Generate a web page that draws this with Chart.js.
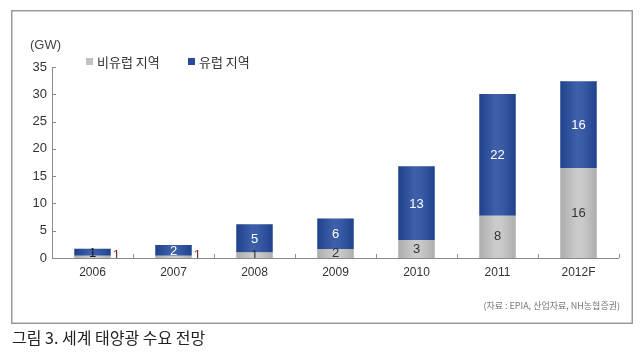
<!DOCTYPE html>
<html><head><meta charset="utf-8">
<script src="https://cdn.jsdelivr.net/npm/chart.js@4.4.0/dist/chart.umd.min.js"></script>
<style>html,body{margin:0;padding:0;background:#fff;}#wrap{width:643px;height:357px;position:relative;}</style>
</head><body><div id="wrap"><canvas id="c" width="643" height="357"></canvas></div>
<script>
const categories = ['2006','2007','2008','2009','2010','2011','2012F'];
const nonEurope = [0.4, 0.4, 1.0, 1.65, 3.3, 7.75, 16.5];
const europe = [1.3, 2.0, 5.2, 5.6, 13.5, 22.3, 15.9];
const nonEuropeLabels = ['1','1','1','2','3','8','16'];
const europeLabels = ['1','2','5','6','13','22','16'];
const seriesNames = ['비유럽 지역','유럽 지역'];
const yTicks = [0,5,10,15,20,25,30,35];
const unitText = '(GW)';
const sourceText = '(자료 : EPIA, 산업자료, NH농협증권)';
const captionText = '그림 3. 세계 태양광 수요 전망';

const FONT = '"Liberation Sans", Arial, "Noto Sans CJK KR", sans-serif';
const KFONT = '"Noto Sans CJK KR", "Liberation Sans", sans-serif';

const deco = {
  id: 'deco',
  beforeDraw(chart) {
    const ctx = chart.ctx;
    ctx.save();
    ctx.fillStyle = '#fff';
    ctx.fillRect(0,0,chart.width,chart.height);
    ctx.strokeStyle = '#9a9a9a';
    ctx.lineWidth = 1.5;
    ctx.strokeRect(11.75, 10.75, 620.5, 312.5);
    ctx.restore();
  },
  afterDatasetsDraw(chart) {
    const ctx = chart.ctx;
    ctx.save();
    chart.data.datasets.forEach((ds, di) => {
      chart.getDatasetMeta(di).data.forEach(el => {
        const p = el.getProps(['x','y','base','width'], true);
        const l = p.x - p.width/2, r = p.x + p.width/2;
        const g = ctx.createLinearGradient(l, 0, r, 0);
        g.addColorStop(0, 'rgba(0,0,0,0.12)');
        g.addColorStop(0.45, 'rgba(255,255,255,0.12)');
        g.addColorStop(0.6, 'rgba(255,255,255,0.10)');
        g.addColorStop(1, 'rgba(0,0,0,0.12)');
        ctx.fillStyle = g;
        ctx.fillRect(l, Math.min(p.y,p.base), p.width, Math.abs(p.base-p.y));
      });
    });
    ctx.font = '13px ' + FONT;
    ctx.textBaseline = 'middle';
    const lbls = [nonEuropeLabels, europeLabels];
    chart.data.datasets.forEach((ds, di) => {
      chart.getDatasetMeta(di).data.forEach((el, i) => {
        const p = el.getProps(['x','y','base','width'], true);
        const h = Math.abs(p.base - p.y);
        const cy = (p.y + p.base)/2;
        if (di === 0) {
          if (h < 4) {
            ctx.fillStyle = '#7a2a18';
            ctx.textAlign = 'left';
            ctx.fillText(lbls[di][i], p.x + p.width/2 + 2, cy - 1);
          } else {
            ctx.fillStyle = '#333';
            ctx.textAlign = 'center';
            ctx.fillText(lbls[di][i], p.x, cy);
          }
        } else {
          ctx.fillStyle = h < 9 ? '#222' : '#fff';
          ctx.textAlign = 'center';
          ctx.fillText(lbls[di][i], p.x, cy + 1);
        }
      });
    });
    ctx.restore();
  },
  afterDraw(chart) {
    const ctx = chart.ctx;
    const xs = chart.scales.x, ys = chart.scales.y;
    const a = chart.chartArea;
    ctx.save();
    ctx.strokeStyle = '#8a8a8a';
    ctx.lineWidth = 1;
    ctx.beginPath();
    ctx.moveTo(a.left + 0.5, ys.getPixelForValue(35));
    ctx.lineTo(a.left + 0.5, a.bottom + 0.5);
    ctx.lineTo(a.right, a.bottom + 0.5);
    ctx.stroke();
    yTicks.forEach(v => {
      const y = Math.round(ys.getPixelForValue(v)) + 0.5;
      ctx.beginPath(); ctx.moveTo(a.left, y); ctx.lineTo(a.left + 4, y); ctx.stroke();
    });
    for (let i = 0; i < categories.length; i++) {
      const x = Math.round((xs.getPixelForValue(i) + (i < categories.length-1 ? xs.getPixelForValue(i+1) : 2*xs.getPixelForValue(i) - xs.getPixelForValue(i-1)))/2) + 0.5;
      ctx.beginPath(); ctx.moveTo(x, a.bottom); ctx.lineTo(x, a.bottom - 4); ctx.stroke();
    }
    ctx.fillStyle = '#444';
    ctx.font = '13px ' + FONT;
    ctx.textAlign = 'left';
    ctx.textBaseline = 'middle';
    ctx.fillText(unitText, 30, 45);
    const cols = ['#c2c2c2', '#244a9e'];
    const lx = [86, 188];
    ctx.font = '13px ' + KFONT;
    seriesNames.forEach((n, i) => {
      ctx.fillStyle = cols[i];
      ctx.fillRect(lx[i], 58, 7, 7);
      ctx.fillStyle = '#333';
      ctx.fillText(n, lx[i] + 11, 62);
    });
    ctx.fillStyle = '#777';
    ctx.font = '9px ' + KFONT;
    ctx.textAlign = 'right';
    ctx.fillText(sourceText, 620, 306);
    ctx.fillStyle = '#222';
    ctx.font = '16px ' + KFONT;
    ctx.textAlign = 'left';
    ctx.fillText(captionText, 12, 338);
    ctx.restore();
  }
};

new Chart(document.getElementById('c'), {
  type: 'bar',
  data: {
    labels: categories,
    datasets: [
      { label: seriesNames[0], data: nonEurope, backgroundColor: '#c4c4c4', categoryPercentage: 1, barPercentage: 0.45 },
      { label: seriesNames[1], data: europe, backgroundColor: '#244a9e', categoryPercentage: 1, barPercentage: 0.45 }
    ]
  },
  options: {
    responsive: false,
    animation: false,
    events: [],
    layout: { padding: { left: 0, right: 24, top: 67, bottom: 77 } },
    plugins: { legend: { display: false }, tooltip: { enabled: false } },
    scales: {
      x: {
        stacked: true,
        grid: { display: false, drawTicks: false },
        border: { display: false },
        ticks: { color: '#333', font: { family: FONT, size: 12 }, padding: 7 },
        afterFit: s => { s.height = 22; }
      },
      y: {
        stacked: true, min: 0, max: 35,
        afterBuildTicks: s => { s.ticks = yTicks.map(v => ({ value: v })); },
        grid: { display: false, drawTicks: false },
        border: { display: false },
        ticks: { color: '#333', font: { family: FONT, size: 13 }, padding: 5 },
        afterFit: s => { s.width = 52; }
      }
    }
  },
  plugins: [deco]
});
</script></body></html>
